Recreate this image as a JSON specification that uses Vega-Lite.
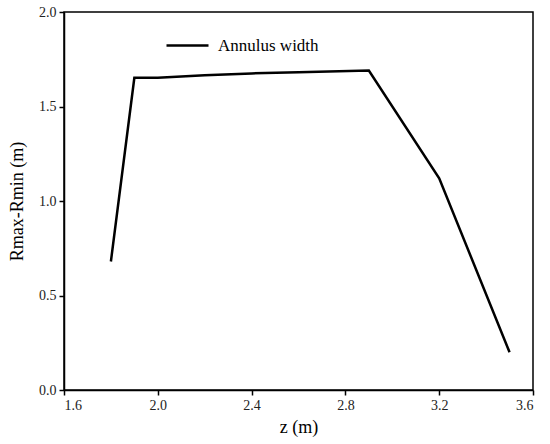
{
  "$schema": "https://vega.github.io/schema/vega-lite/v6.json",
  "width": 469,
  "height": 378,
  "autosize": "none",
  "padding": {"left": 64, "top": 12, "right": 17, "bottom": 54},
  "background": "white",
  "data": {
    "values": [
      {"z": 1.8, "w": 0.68},
      {"z": 1.9, "w": 1.652},
      {"z": 2.0, "w": 1.652},
      {"z": 2.2, "w": 1.665},
      {"z": 2.4, "w": 1.675},
      {"z": 2.6, "w": 1.681},
      {"z": 2.9, "w": 1.69},
      {"z": 3.2, "w": 1.12},
      {"z": 3.5, "w": 0.2}
    ]
  },
  "mark": {"type": "line", "color": "black", "strokeWidth": 2.5, "strokeJoin": "miter"},
  "encoding": {
    "x": {
      "field": "z", "type": "quantitative",
      "scale": {"domain": [1.6, 3.6], "nice": false, "zero": false},
      "axis": {
        "orient": "bottom", "title": "z (m)",
        "values": [1.6, 2.0, 2.4, 2.8, 3.2, 3.6], "format": ".1f",
        "tickSize": 5, "labelPadding": 3
      }
    },
    "y": {
      "field": "w", "type": "quantitative",
      "scale": {"domain": [0, 2.0], "nice": false, "zero": false},
      "axis": {
        "orient": "left", "title": "Rmax-Rmin (m)",
        "values": [0, 0.5, 1.0, 1.5, 2.0], "format": ".1f",
        "tickSize": 5, "labelPadding": 3
      }
    },
    "color": {
      "datum": "Annulus width", "type": "nominal",
      "scale": {"range": ["black"]},
      "legend": {
        "title": null, "orient": "none", "legendX": 101, "legendY": 11,
        "symbolType": "stroke", "symbolSize": 1764, "symbolStrokeWidth": 2.5,
        "labelFont": "Liberation Serif", "labelFontSize": 17, "labelColor": "black",
        "labelOffset": 8
      }
    }
  },
  "config": {
    "view": {"stroke": "black", "strokeWidth": 1.5},
    "axis": {
      "grid": false,
      "domainColor": "black", "domainWidth": 1.5,
      "tickColor": "black", "tickWidth": 1.5,
      "labelFont": "Liberation Serif", "labelFontSize": 14, "labelColor": "#222",
      "titleFont": "Liberation Serif", "titleFontSize": 18, "titleFontWeight": "normal", "titleColor": "black"
    },
    "axisX": {"titlePadding": 6},
    "axisY": {"titlePadding": 12}
  }
}
